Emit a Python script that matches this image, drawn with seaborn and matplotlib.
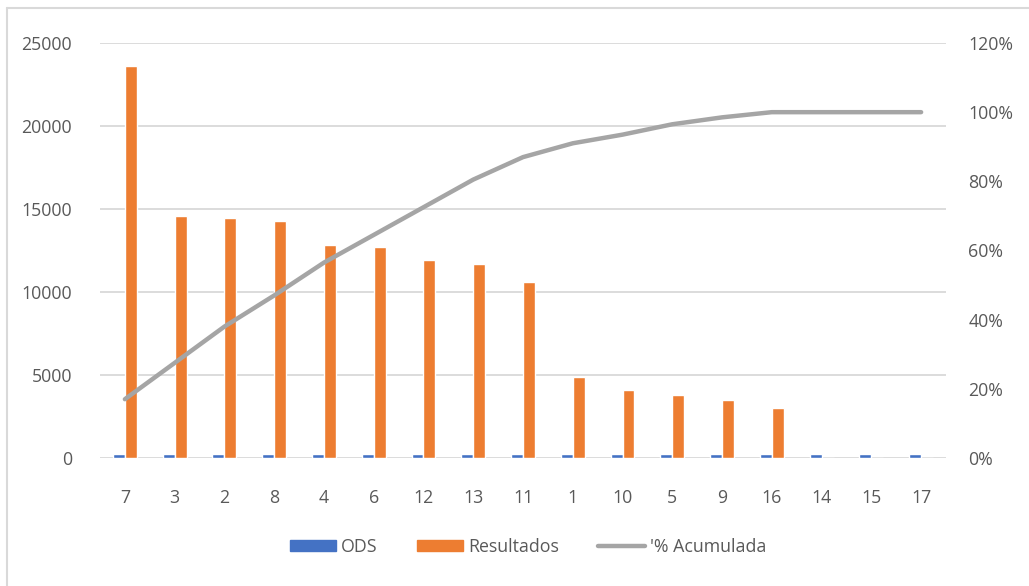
import numpy as np
import pandas as pd
import matplotlib
matplotlib.use("Agg")
import matplotlib.pyplot as plt
from matplotlib.patches import Patch
from matplotlib.lines import Line2D
import seaborn as sns

# ---- data ----
categories = ["7", "3", "2", "8", "4", "6", "12", "13", "11", "1", "10", "5", "9", "16", "14", "15", "17"]
ods = [250, 250, 250, 250, 250, 250, 250, 250, 250, 250, 250, 250, 250, 250, 250, 250, 250]
resultados = [23600, 14600, 14450, 14300, 12850, 12700, 11900, 11700, 10600,
              4900, 4100, 3800, 3500, 3000, 0, 0, 0]
acumulada = [0.17, 0.275, 0.38, 0.47, 0.565, 0.645, 0.725, 0.805, 0.87,
             0.91, 0.935, 0.965, 0.985, 1.0, 1.0, 1.0, 1.0]
left_ticks = [0, 5000, 10000, 15000, 20000, 25000]
right_ticks = [0, 0.2, 0.4, 0.6, 0.8, 1.0, 1.2]
series_names = ["ODS", "Resultados", "'% Acumulada"]

BLUE = "#4472C4"
ORANGE = "#ED7D31"
GRAY = "#A5A5A5"
GRID = "#D9D9D9"
TEXT = "#595959"
FS = 12.8

sns.set_theme(style="white")
plt.rcParams["font.family"] = ["Open Sans", "DejaVu Sans"]

df = pd.DataFrame({
    "cat": categories * 2,
    "val": ods + resultados,
    "serie": [series_names[0]] * len(categories) + [series_names[1]] * len(categories),
})

fig = plt.figure(figsize=(10.29, 5.86), dpi=100)
ax = fig.add_axes([100 / 1029, 1 - 458 / 586, 846 / 1029, 415 / 586])

sns.barplot(data=df, x="cat", y="val", hue="serie", order=categories,
            hue_order=series_names[:2], palette=[BLUE, ORANGE],
            width=0.48, gap=0, dodge=True, ax=ax, legend=False, saturation=1)

ax.set_xlim(-0.5, len(categories) - 0.5)
ax.set_ylim(0, 25000)
ax.set_yticks(left_ticks)
ax.set_yticklabels([str(t) for t in left_ticks])
ax.set_xlabel("")
ax.set_ylabel("")
ax.grid(axis="y", color=GRID, linewidth=1.3)
ax.set_axisbelow(True)
for s in ["top", "right", "left", "bottom"]:
    ax.spines[s].set_visible(False)
ax.tick_params(axis="both", length=0, colors=TEXT, labelsize=FS)
ax.tick_params(axis="x", pad=22)
ax.tick_params(axis="y", pad=20)

ax2 = ax.twinx()
sns.lineplot(x=np.arange(len(categories)), y=acumulada, ax=ax2, color=GRAY,
             linewidth=3.2, sort=False)
ax2.set_ylim(0, 1.2)
ax2.set_yticks(right_ticks)
ax2.set_yticklabels([f"{int(round(t * 100))}%" for t in right_ticks])
ax2.tick_params(axis="y", length=0, colors=TEXT, labelsize=FS, pad=16)
for s in ax2.spines.values():
    s.set_visible(False)
ax2.grid(False)
ax2.set_xlim(-0.5, len(categories) - 0.5)

handles = [Patch(facecolor=BLUE, edgecolor=BLUE),
           Patch(facecolor=ORANGE, edgecolor=ORANGE),
           Line2D([0], [0], color=GRAY, linewidth=3.2)]
fig.legend(handles, series_names, loc="center", bbox_to_anchor=(528 / 1029, 1 - 547 / 586),
           ncol=3, frameon=False, fontsize=FS, labelcolor=TEXT,
           handlelength=2.6, handleheight=0.55, columnspacing=2.2, handletextpad=0.3)

# chart border (top and left edges visible)
fig.add_artist(Line2D([7 / 1029, 7 / 1029], [0, 1 - 8 / 586], transform=fig.transFigure,
                      color=GRID, linewidth=1.5))
fig.add_artist(Line2D([7 / 1029, 1], [1 - 8 / 586, 1 - 8 / 586], transform=fig.transFigure,
                      color=GRID, linewidth=1.5))

fig.savefig("out.png", dpi=100)
